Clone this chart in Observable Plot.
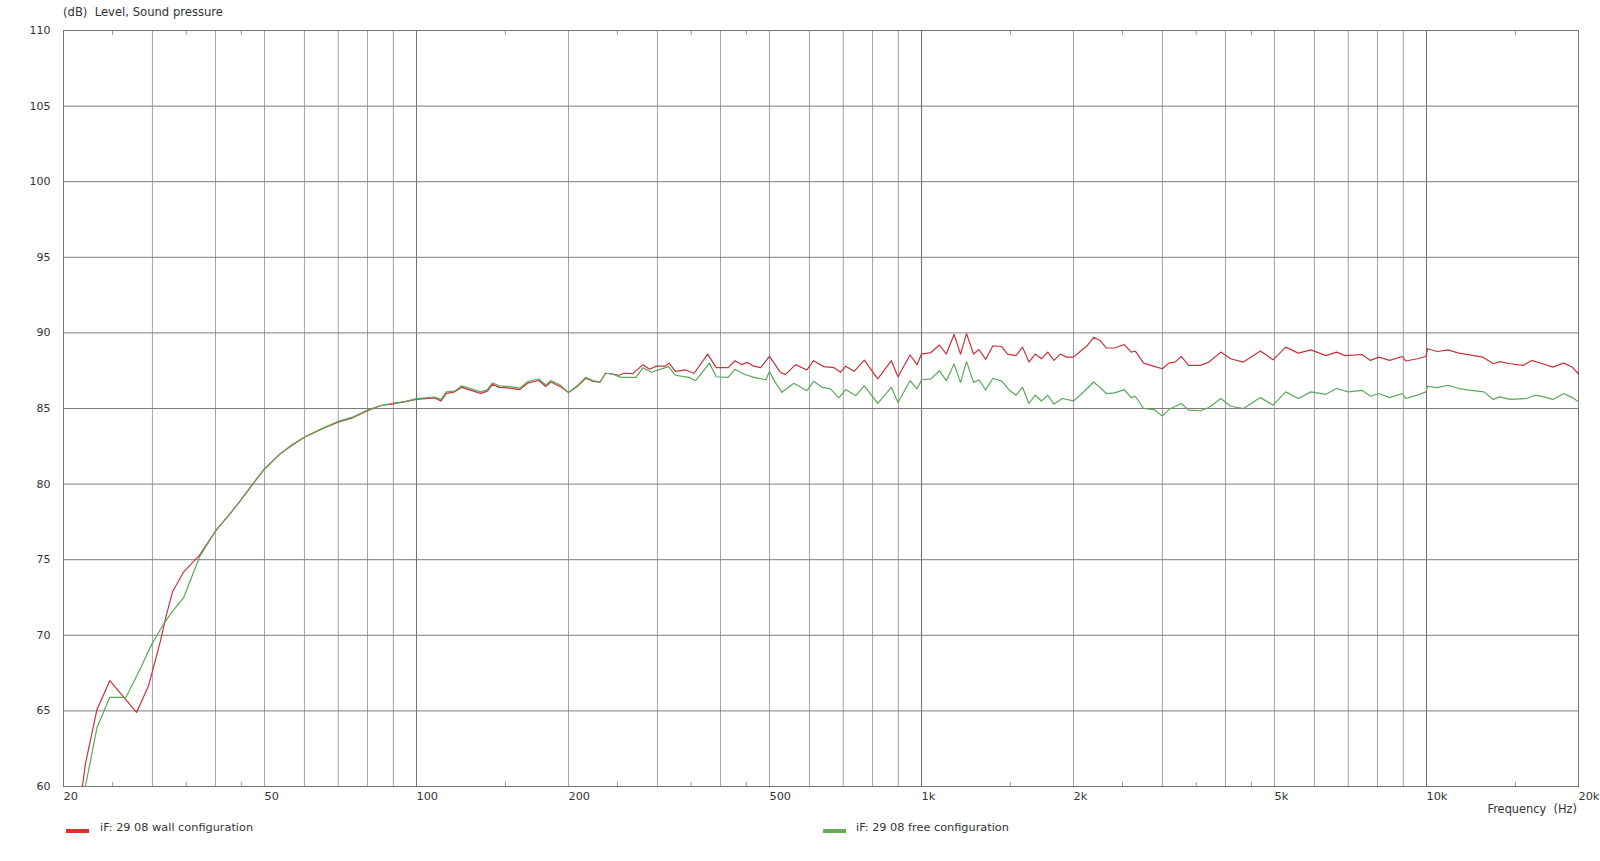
<!DOCTYPE html>
<html>
<head>
<meta charset="utf-8">
<script src="https://cdn.jsdelivr.net/npm/d3@7"></script>
<script src="https://cdn.jsdelivr.net/npm/@observablehq/plot@0.6"></script>
<style>
  html, body { margin: 0; padding: 0; background: #fff; overflow: hidden; }
  body { width: 1600px; height: 861px; position: relative; font-family: "DejaVu Sans", Verdana, sans-serif; color: #333; }
  #title { position: absolute; left: 63px; top: 5px; font-size: 11.6px; white-space: pre; }
  #chart { position: absolute; left: 0; top: 22px; }
  #xlabel { position: absolute; right: 23px; top: 802px; font-size: 11.4px; white-space: pre; }
  .leg { position: absolute; top: 821px; font-size: 11.3px; white-space: pre; }
  .sw { position: absolute; width: 23px; height: 4px; }
</style>
</head>
<body>
<div id="title">(dB)  Level, Sound pressure</div>
<div id="chart"></div>
<div id="xlabel">Frequency  (Hz)</div>
<div class="sw" style="left:66px; top:829px; background:#d8322f"></div>
<div class="leg" id="leg1" style="left:100px"></div>
<div class="sw" style="left:823px; top:829px; background:#66ad55"></div>
<div class="leg" id="leg2" style="left:856px"></div>
<script>
// ---- data ----
const seriesNames = ["iF: 29 08 wall configuration", "iF: 29 08 free configuration"];
const seriesColors = ["#c8323e", "#5aa85a"];

const wallFreq = [21.8,22.1,23.3,24.7,27.9,29.5,31.1,32.0,32.9,34.6,37.2,40,42.4,44.8,47.9,50,53.7,56.7,60,64.9,70,75,80,85,90,95,100,108.6,111.9,114.6,119.1,122.9,126.9,133.9,138.2,141.3,145.8,152.8,160.2,166.5,174.7,180.3,184.6,193.5,200,208,216.4,223.4,231,236.9,244.3,251.9,257.8,268,280.8,289.5,298.6,310.6,316.4,325.5,341.1,354.6,377.3,392.2,414.1,427.3,440.9,451.4,465.7,480.4,500,525.3,537.6,563.3,593,611.5,640.6,671.2,691.7,707.9,735.5,770.5,819.4,871.5,898.4,949.4,979.7,1000,1044,1085,1120,1160,1195,1228,1268,1300,1340,1385,1441,1481,1539,1585,1632,1680,1728,1778,1830,1883,1937,2000,2072,2131,2193,2258,2323,2412,2520,2602,2651,2753,2887,3000,3088,3177,3270,3380,3569,3708,3917,4091,4340,4690,4968,5262,5574,5905,6322,6637,6899,7454,7746,8049,8453,8963,9100,9596,9974,10050,10508,11036,11589,12170,12915,13563,13963,14660,15542,16154,16950,17797,18687,19426,20000];
const wallDb = [60.0,61.5,65.1,67.0,64.9,66.7,69.6,71.4,72.9,74.2,75.3,76.9,77.9,78.9,80.2,81.0,82.0,82.6,83.1,83.65,84.1,84.4,84.85,85.2,85.3,85.45,85.6,85.7,85.5,86.0,86.1,86.4,86.25,86.0,86.15,86.6,86.4,86.35,86.25,86.7,86.85,86.45,86.75,86.4,86.05,86.45,87.0,86.8,86.75,87.33,87.28,87.2,87.33,87.3,87.9,87.6,87.8,87.8,88.0,87.46,87.55,87.33,88.6,87.7,87.7,88.16,87.9,88.05,87.8,87.7,88.45,87.4,87.24,87.9,87.55,88.16,87.77,87.7,87.4,87.8,87.46,88.2,86.96,88.16,87.1,88.54,87.9,88.6,88.7,89.2,88.6,89.9,88.6,89.95,88.6,88.9,88.25,89.15,89.1,88.6,88.5,89.06,88.07,88.6,88.29,88.73,88.18,88.6,88.4,88.4,88.84,89.17,89.71,89.5,89.0,89.0,89.23,88.73,88.8,88.0,87.79,87.63,88.0,88.07,88.44,87.85,87.85,88.07,88.73,88.29,88.07,88.8,88.22,89.06,88.66,88.88,88.5,88.73,88.5,88.57,88.18,88.4,88.18,88.44,88.14,88.29,88.44,88.95,88.77,88.88,88.66,88.55,88.4,87.96,88.1,87.96,87.85,88.18,87.96,87.74,88.0,87.74,87.3];

const freeFreq = [22.1,23.3,24.7,26.6,28.4,29.9,31.5,32.9,34.6,37.2,40,42.4,44.8,47.9,50,53.7,56.7,60,64.9,70,75,80,85,90,95,100,108.6,111.9,114.6,119.1,122.9,126.9,133.9,138.2,141.3,145.8,152.8,160.2,166.5,174.7,180.3,184.6,193.5,200,208,216.4,223.4,231,236.9,244.3,254,272,280.8,291.8,315.6,325.5,346.3,357.2,380.3,392.2,414.1,427.3,444.3,465.7,491.6,500,513.4,529.4,559,593,611.5,635.8,660.6,686.2,707.9,741.2,770.5,819.4,871.5,898.4,949.4,979.7,1001,1044,1085,1120,1160,1195,1228,1268,1300,1340,1385,1441,1494,1539,1585,1632,1680,1728,1778,1830,1900,2000,2072,2193,2258,2323,2412,2520,2602,2651,2753,2887,3000,3088,3270,3380,3569,3708,3917,4091,4340,4690,4968,5262,5574,5905,6322,6637,7000,7454,7746,8049,8453,8963,9100,9596,9974,10050,10508,11036,11589,12250,13000,13563,13963,14660,15800,16400,17100,17797,18687,19426,20000];
const freeDb = [60.0,63.9,65.9,65.9,67.8,69.4,70.7,71.6,72.5,75.2,76.9,77.9,78.9,80.2,81.0,82.0,82.55,83.1,83.65,84.15,84.45,84.9,85.2,85.35,85.45,85.65,85.75,85.6,86.1,86.15,86.5,86.35,86.1,86.25,86.7,86.5,86.45,86.35,86.8,86.95,86.55,86.85,86.5,86.05,86.5,87.06,86.85,86.75,87.33,87.28,87.06,87.06,87.7,87.4,87.77,87.2,87.06,86.84,88.0,87.1,87.06,87.6,87.28,87.06,86.9,87.44,86.73,86.07,86.67,86.18,86.8,86.4,86.3,85.7,86.25,85.85,86.5,85.34,86.4,85.4,86.84,86.3,86.9,86.96,87.5,86.84,87.95,86.73,88.1,86.73,86.9,86.22,87.0,86.82,86.2,85.88,86.4,85.33,85.88,85.5,85.88,85.29,85.66,85.5,85.94,86.75,86.38,85.99,86.03,86.25,85.72,85.81,85.0,84.93,84.5,84.93,85.33,84.89,84.85,85.07,85.66,85.15,85.0,85.72,85.22,86.1,85.66,86.1,85.94,86.32,86.1,86.2,85.81,85.99,85.72,85.99,85.66,85.88,86.1,86.47,86.38,86.54,86.32,86.2,86.1,85.6,85.77,85.6,85.66,85.88,85.77,85.6,85.99,85.72,85.44];

const yTicks = [60, 65, 70, 75, 80, 85, 90, 95, 100, 105, 110];
const xLabelTicks = [20, 50, 100, 200, 500, 1000, 2000, 5000, 10000, 20000];
const gridFreqs = [30, 40, 50, 60, 70, 80, 90, 200, 300, 400, 500, 600, 700, 800, 900, 2000, 3000, 4000, 5000, 6000, 7000, 8000, 9000];
const decadeFreqs = [100, 1000, 10000];
const minorTicks = [25, 35, 45, 150, 250, 350, 450, 1500, 2500, 3500, 4500, 15000];

// ---- build tables ----
const wall = wallFreq.map((f, i) => ({f, db: wallDb[i]}));
const free = freeFreq.map((f, i) => ({f, db: freeDb[i]}));

const fmt = f => f >= 1000 ? (f / 1000) + "k" : String(f);

const chart = Plot.plot({
  width: 1600,
  height: 800,
  marginTop: 8,
  marginLeft: 63,
  marginRight: 22,
  marginBottom: 36,
  style: {fontFamily: "DejaVu Sans, Verdana, sans-serif", fontSize: "11px", color: "#333", background: "white", overflow: "visible"},
  x: {type: "log", domain: [20, 20000]},
  y: {domain: [60, 110]},
  marks: [
    Plot.gridX(gridFreqs, {stroke: "#a3a3a3", strokeOpacity: 1}),
    Plot.gridX(decadeFreqs, {stroke: "#6e6e6e", strokeOpacity: 1}),
    Plot.gridY(yTicks, {stroke: "#7d7d7d", strokeOpacity: 1}),
    Plot.axisX(minorTicks, {anchor: "bottom", tickSize: -4, tickFormat: () => "", label: null, stroke: "#999"}),
    Plot.axisX(minorTicks, {anchor: "top", tickSize: -4, tickFormat: () => "", label: null, stroke: "#999"}),
    Plot.frame({stroke: "#777"}),
    Plot.axisX(xLabelTicks, {anchor: "bottom", tickSize: 0, tickPadding: 5, tickFormat: fmt, textAnchor: "start", label: null, fill: "#333", fontSize: 11.3}),
    Plot.axisY(yTicks, {anchor: "left", tickSize: 0, tickPadding: 13, label: null, fill: "#333"}),
    Plot.line(wall, {x: "f", y: "db", stroke: seriesColors[0], strokeWidth: 1.2}),
    Plot.line(free, {x: "f", y: "db", stroke: seriesColors[1], strokeWidth: 1.2})
  ]
});
document.getElementById("chart").appendChild(chart);
document.getElementById("leg1").textContent = seriesNames[0];
document.getElementById("leg2").textContent = seriesNames[1];
</script>
</body>
</html>
